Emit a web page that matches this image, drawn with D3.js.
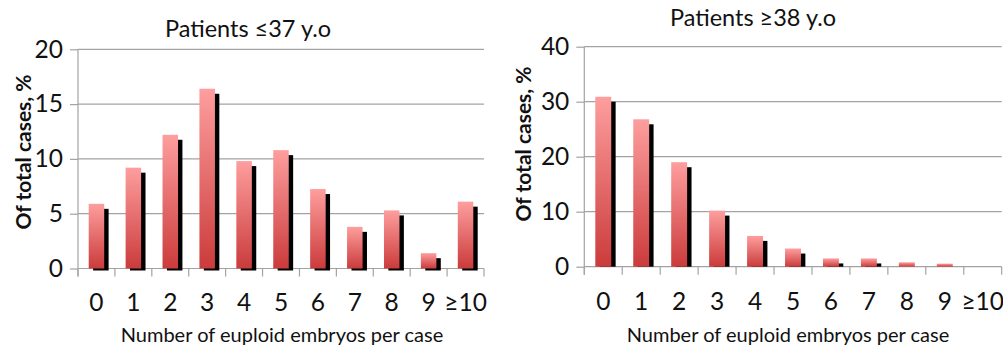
<!DOCTYPE html>
<html>
<head>
<meta charset="utf-8">
<script src="https://cdn.jsdelivr.net/npm/d3@7"></script>
<style>
  html, body { margin: 0; padding: 0; background: #fff; }
  svg { display: block; font-family: Lato, "Noto Sans", sans-serif; }
</style>
</head>
<body>
<svg id="chart" width="1003" height="345"></svg>
<script>
// Share of cases (%) by number of euploid embryos, split by patient age
const categories = ["0", "1", "2", "3", "4", "5", "6", "7", "8", "9", "\u226510"];
const youngerPct = [5.9, 9.2, 12.2, 16.4, 9.8, 10.8, 7.25, 3.8, 5.3, 1.4, 6.1];
const olderPct   = [30.9, 26.8, 19.0, 10.2, 5.6, 3.3, 1.5, 1.5, 0.8, 0.55, 0];
const youngerTicks = [0, 5, 10, 15, 20];
const olderTicks   = [0, 10, 20, 30, 40];
const titles = ["Patients \u226437 y.o", "Patients \u226538 y.o"];
const xTitle = "Number of euploid embryos per case";
const yTitle = "Of total cases, %";

const svg = d3.select("#chart");

// Vertical pink-to-red fill used by every bar
const defs = svg.append("defs");
const grad = defs.append("linearGradient")
  .attr("id", "barFill").attr("x1", 0).attr("y1", 0).attr("x2", 0).attr("y2", 1);
grad.append("stop").attr("offset", "0%").attr("stop-color", "#fe9e9e");
grad.append("stop").attr("offset", "100%").attr("stop-color", "#cb3b3b");

const panels = [
  { values: youngerPct, ticks: youngerTicks, max: 20, title: titles[0],
    x0: 78, x1: 484, yTop: 49.3, yBase: 268.5,
    titleX: 248, titleY: 37, yLabX: 31, yLabY: 152, xLabX: 282, shadowBelow: 2 },
  { values: olderPct, ticks: olderTicks, max: 40, title: titles[1],
    x0: 584.3, x1: 1001.7, yTop: 46.7, yBase: 266.7,
    titleX: 753, titleY: 26, yLabX: 531, yLabY: 144, xLabX: 788, shadowBelow: 0 }
];

const gridColor = "#a3a3a3";
const tickFont = 24.5;

panels.forEach(p => {
  const x = d3.scaleBand().domain(categories).range([p.x0, p.x1]).padding(0);
  const y = d3.scaleLinear().domain([0, p.max]).range([p.yBase, p.yTop]);
  const g = svg.append("g");

  // Horizontal gridlines
  g.append("g").selectAll("line").data(p.ticks).join("line")
    .attr("x1", p.x0).attr("x2", p.x1)
    .attr("y1", d => y(d)).attr("y2", d => y(d))
    .attr("stroke", gridColor).attr("stroke-width", 1.2);

  // Y axis with outward ticks
  const yAxis = g.append("g")
    .attr("transform", `translate(${p.x0},0)`)
    .call(d3.axisLeft(y).tickValues(p.ticks).tickSize(8).tickPadding(7).tickSizeOuter(0));
  yAxis.select(".domain").remove();
  yAxis.selectAll(".tick line").attr("stroke", gridColor).attr("stroke-width", 1.2);
  yAxis.selectAll(".tick text")
    .attr("font-family", "Lato, sans-serif").attr("font-size", tickFont).attr("fill", "#111");

  // Axis spine running down to the tick ends
  g.append("line")
    .attr("x1", p.x0).attr("x2", p.x0)
    .attr("y1", y(p.max)).attr("y2", p.yBase + 8)
    .attr("stroke", gridColor).attr("stroke-width", 1.2);

  // X axis: category labels centred in bands, ticks at band edges
  const xAxis = g.append("g")
    .attr("transform", `translate(0,${p.yBase})`)
    .call(d3.axisBottom(x).tickSize(0).tickPadding(25.5));
  xAxis.select(".domain").remove();
  xAxis.selectAll(".tick text")
    .attr("font-family", "Lato, sans-serif").attr("font-size", tickFont).attr("fill", "#111");

  const edges = categories.map(c => x(c)).concat([p.x1]);
  g.append("g").selectAll("line").data(edges).join("line")
    .attr("x1", d => d).attr("x2", d => d)
    .attr("y1", p.yBase).attr("y2", p.yBase + 8)
    .attr("stroke", gridColor).attr("stroke-width", 1.2);

  const bw = x.bandwidth() * 0.42;
  const off = (x.bandwidth() - bw) / 2;
  const dx = 4.4, dy = 5;

  // Drop shadow behind each bar
  g.append("g").selectAll("rect").data(p.values).join("rect")
    .attr("x", (d, i) => x(categories[i]) + off + dx)
    .attr("y", d => Math.min(y(d) + dy, p.yBase))
    .attr("width", bw)
    .attr("height", d => Math.max(0, p.yBase + p.shadowBelow - Math.min(y(d) + dy, p.yBase)))
    .attr("fill", "#000")
    .attr("opacity", d => (p.yBase - y(d)) > dy ? 1 : 0);

  // Bars
  g.append("g").selectAll("rect").data(p.values).join("rect")
    .attr("x", (d, i) => x(categories[i]) + off)
    .attr("y", d => y(d))
    .attr("width", bw)
    .attr("height", d => p.yBase - y(d))
    .attr("fill", "url(#barFill)");

  // Titles
  g.append("text")
    .attr("x", p.titleX).attr("y", p.titleY)
    .attr("text-anchor", "middle")
    .attr("font-size", 23.5).attr("fill", "#111")
    .text(p.title);

  g.append("text")
    .attr("x", p.xLabX).attr("y", 341.5)
    .attr("text-anchor", "middle")
    .attr("font-size", 20).attr("fill", "#111")
    .text(xTitle);

  g.append("text")
    .attr("transform", `translate(${p.yLabX},${p.yLabY}) rotate(-90)`)
    .attr("text-anchor", "middle")
    .attr("font-size", 21).attr("font-weight", "bold").attr("fill", "#111")
    .text(yTitle);
});
</script>
</body>
</html>
